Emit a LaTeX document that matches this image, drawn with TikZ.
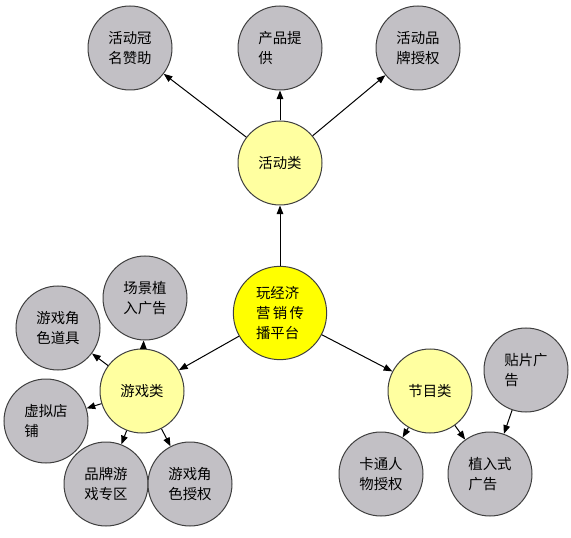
\documentclass[tikz,border=0pt]{standalone}
\usepackage{fontspec}
\newfontfamily\cjk{Noto Sans CJK SC}
\usepackage{tikz}
\usetikzlibrary{arrows.meta}
\usepackage{xcolor}
\definecolor{leafgray}{RGB}{194,192,197}
\definecolor{hubyellow}{RGB}{255,255,160}
\definecolor{rootyellow}{RGB}{255,255,0}
\definecolor{rimgray}{RGB}{64,64,64}

\begin{document}
\begin{tikzpicture}[
        x=0.75pt, y=-0.75pt,
        every node/.style={font=\cjk\fontsize{10.8pt}{15pt}\selectfont, align=left, inner sep=0pt},
        leaf/.style={circle, draw=rimgray, fill=leafgray, minimum size=63pt},
        hub/.style={circle, draw=rimgray, fill=hubyellow, minimum size=63pt},
        root/.style={circle, draw=rimgray, fill=rootyellow, minimum size=70pt},
        link/.style={-{Triangle[length=6.5pt,width=5pt]}, line width=0.75pt},
        line width=0.75pt
      ]
      \useasboundingbox (0,0) rectangle (571,538);
      \node[root] (root) at (280,313) {玩经济\\营\,销\,传\\播平台};
      % 活动类
      \node[hub]  (huodong) at (280,163) {活动类};
      \node[leaf] (guanming) at (130,48)  {活动冠\\名赞助};
      \node[leaf] (chanpin)  at (280,48)  {产品提\\供\phantom{提供}};
      \node[leaf] (pinpai)   at (418,48)  {活动品\\牌授权};
      % 游戏类
      \node[hub]  (youxi)    at (142,391) {游戏类};
      \node[leaf] (changjing) at (145,298) {场景植\\入广告};
      \node[leaf] (daoju)    at (58,328)  {游戏角\\色道具};
      \node[leaf] (dianpu)   at (46,421)  {虚拟店\\铺\phantom{拟店}};
      \node[leaf] (zhuanqu)  at (106,484) {品牌游\\戏专区};
      \node[leaf] (juese)    at (190,484) {游戏角\\色授权};
      % 节目类
      \node[hub]  (jiemu)    at (430,391) {节目类};
      \node[leaf] (tiepian)  at (526,370) {贴片广\\告\phantom{片广}};
      \node[leaf] (katong)   at (381,474) {卡通人\\物授权};
      \node[leaf] (zhiru)    at (490,474) {植入式\\广告\phantom{式}};

      \draw[link] (root) -- (huodong);
      \draw[link] (root) -- (youxi);
      \draw[link] (root) -- (jiemu);
      \draw[link] (huodong) -- (guanming);
      \draw[link] (huodong) -- (chanpin);
      \draw[link] (huodong) -- (pinpai);
      \draw[link] (youxi) -- (changjing);
      \draw[link] (youxi) -- (daoju);
      \draw[link] (youxi) -- (dianpu);
      \draw[link] (youxi) -- (zhuanqu);
      \draw[link] (youxi) -- (juese);
      \draw[link] (jiemu) -- (katong);
      \draw[link] (jiemu) -- (zhiru);
      \draw[link] (tiepian) -- (zhiru);
    \end{tikzpicture}
\end{document}
